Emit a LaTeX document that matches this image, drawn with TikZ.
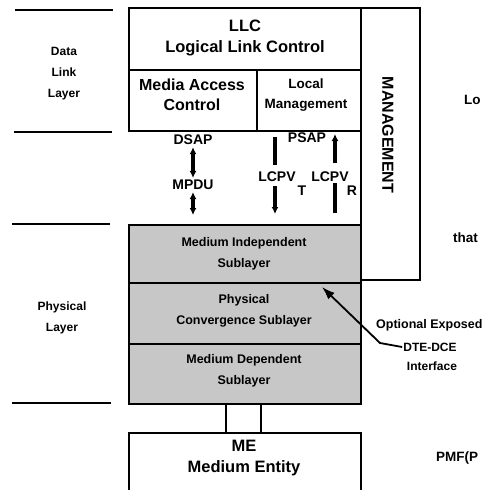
\documentclass[tikz,border=0pt]{standalone}
\usepackage{fontspec}
\setmainfont{Liberation Sans}
\usetikzlibrary{arrows.meta}
\begin{document}
\begin{tikzpicture}[x=1pt,y=-1pt,
  box/.style={draw, line width=2.2pt, inner sep=0pt, anchor=north west},
  graybox/.style={box, fill=black!22},
  sep/.style={line width=2.6pt},
  tbig/.style={font=\bfseries\fontsize{16.5}{21}\selectfont, align=center, inner sep=1pt},
  tmac/.style={font=\bfseries\fontsize{16}{20}\selectfont, align=center, inner sep=1pt},
  tmid/.style={font=\bfseries\fontsize{14}{17}\selectfont, inner sep=2pt},
  tsmall/.style={font=\bfseries\fontsize{12.5}{21}\selectfont, align=center, inner sep=1pt},
  tlm/.style={font=\bfseries\fontsize{13.5}{20}\selectfont, align=center, inner sep=1pt},
  tside/.style={font=\bfseries\fontsize{12}{21}\selectfont, align=center, inner sep=1pt},
  tedge/.style={font=\bfseries\fontsize{13.5}{17}\selectfont, anchor=west, inner sep=0pt},
  conn/.style={line width=2.2pt},
  darr/.style={line width=3.2pt, {Latex[length=7pt,width=7pt]}-{Latex[length=7pt,width=7pt]}},
  sarr/.style={line width=3.2pt, -{Latex[length=7pt,width=7pt]}},
  bar/.style={line width=3.2pt}
]
\useasboundingbox (0,0) rectangle (485,490);
\clip (0,0) rectangle (485,490);

% left separators
\draw[sep] (15,10) -- (113,10);
\draw[sep] (14,132) -- (112,132);
\draw[sep] (12,224) -- (110,224);
\draw[sep] (12,403) -- (111,403);

\node[tside] (dll) at (64,74) {Data\\Link\\Layer};
\node[tside] (phl) at (62,318) {Physical\\Layer};

% boxes
\node[box, minimum width=59pt, minimum height=272pt] (mgmt) at (360,7) {};
\node[box, minimum width=232pt, minimum height=62pt] (llc) at (128,7) {};
\node[box, minimum width=128pt, minimum height=61pt] (mac) at (128,69) {};
\node[box, minimum width=104pt, minimum height=61pt] (lm) at (256,69) {};
\node[graybox, minimum width=232pt, minimum height=58pt] (mis) at (128,224) {};
\node[graybox, minimum width=232pt, minimum height=61pt] (pcs) at (128,282) {};
\node[graybox, minimum width=232pt, minimum height=60pt] (mds) at (128,343) {};
\node[box, minimum width=232pt, minimum height=70pt] (me) at (128,432) {};

% box texts
\node[tbig] (llct) at (245,38) {LLC\\Logical Link Control};
\node[tmac] (mact) at (192,95) {Media Access\\Control};
\node[tlm] (lmt) at (306,95) {Local\\Management};
\node[tsmall] (mist) at (244,253.5) {Medium Independent\\Sublayer};
\node[tsmall] (pcst) at (244,311) {Physical\\Convergence Sublayer};
\node[tsmall] (mdst) at (244,370.5) {Medium Dependent\\Sublayer};
\node[tbig] (met) at (244,458) {ME\\Medium Entity};
\node[font=\bfseries\fontsize{16}{18}\selectfont, rotate=-90, inner sep=0pt] (mgmtt) at (388,135) {MANAGEMENT};

% service access points
\node[tmid] (dsap) at (193,140) {DSAP};
\node[tmid] (mpdu) at (193,185) {MPDU};
\node[tmid] (psap) at (307,138) {PSAP};
\node[tmid] (lcpvt) at (277,177) {LCPV};
\node[tmid] (lcpvr) at (330,177) {LCPV};
\node[tmid] (tt) at (302,191) {T};
\node[tmid] (rr) at (352,191) {R};

\draw[darr] (dsap.south) -- (mpdu.north);
\draw[darr, shorten >=9pt] (mpdu.south) -- (mis.north -| mpdu);

\coordinate (t1) at (275,137);
\coordinate (t2) at (275,165);
\coordinate (t3) at (275,186);
\coordinate (t4) at (275,214);
\draw[bar] (t1) -- (t2);
\draw[sarr] (t3) -- (t4);

\coordinate (r1) at (335,134);
\coordinate (r2) at (335,163);
\coordinate (r3) at (335,183);
\coordinate (r4) at (335,213);
\draw[sarr] (r2) -- (r1);
\draw[bar] (r3) -- (r4);

% link to medium entity
\coordinate (c1) at (226,0);
\coordinate (c2) at (261,0);
\draw[conn] (mds.south -| c1) -- (me.north -| c1);
\draw[conn] (mds.south -| c2) -- (me.north -| c2);

% DTE-DCE annotation
\node[font=\bfseries\fontsize{12.5}{15}\selectfont, inner sep=0pt, anchor=west] (opt) at (376,325) {Optional Exposed};
\node[font=\bfseries\fontsize{12}{15}\selectfont, inner sep=1pt] (dte) at (430,347) {DTE-DCE};
\node[font=\bfseries\fontsize{12}{15}\selectfont, inner sep=1pt] (intf) at (432,366) {Interface};
\coordinate (bend) at (380,343);
\coordinate (tip) at (322,287);
\draw[line width=1.8pt, -{Latex[length=13pt,width=9pt]}] (dte.west) -- (bend) -- (tip);

% text at the right edge
\node[tedge] (lo) at (464,100) {Lo};
\node[tedge] (that) at (453,238) {that};
\node[tedge] (pmf) at (436,458) {PMF(P};
\end{tikzpicture}
\end{document}
